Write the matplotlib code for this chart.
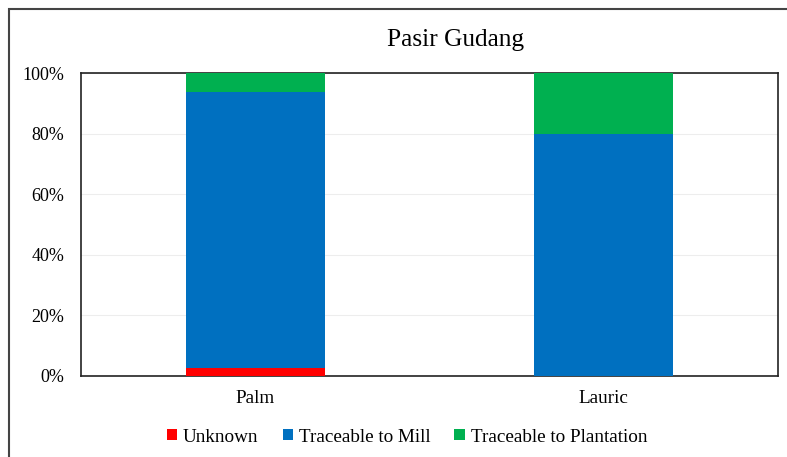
import matplotlib
matplotlib.use("Agg")
import matplotlib.pyplot as plt
from matplotlib.patches import Rectangle
from matplotlib.ticker import FuncFormatter

categories = ["Palm", "Lauric"]
series_names = ["Unknown", "Traceable to Mill", "Traceable to Plantation"]
unknown = [2.6, 0.0]
mill = [91.2, 80.0]
plantation = [6.2, 20.0]
colors = ["#FF0000", "#0070C0", "#00B050"]
yticks = [0, 20, 40, 60, 80, 100]

plt.rcParams['font.family'] = ['Liberation Serif', 'DejaVu Serif']

fig = plt.figure(figsize=(7.87, 4.57), dpi=100)
W, H = 787, 457
ax = fig.add_axes([81 / W, 1 - 376 / H, (778 - 81) / W, (376 - 73) / H])

x = list(range(len(categories)))
bottom = [0.0] * len(categories)
for name, vals, c in zip(series_names, [unknown, mill, plantation], colors):
    ax.bar(x, vals, width=0.4, bottom=bottom, color=c, label=name, zorder=3)
    bottom = [b + v for b, v in zip(bottom, vals)]

ax.set_xlim(-0.5, 1.5)
ax.set_ylim(0, 100)
ax.set_yticks(yticks)
ax.yaxis.set_major_formatter(FuncFormatter(lambda v, p: f"{int(v)}%"))
ax.set_xticks(x)
ax.set_xticklabels(categories)
ax.tick_params(axis='both', length=0, colors='black')
ax.tick_params(axis='y', pad=12, labelsize=13)
ax.tick_params(axis='x', pad=10, labelsize=13.8)
ax.grid(axis='y', color='#EDEDED', linewidth=0.8, zorder=0)
for s in ax.spines.values():
    s.set_color('#222222')
    s.set_linewidth(1.2)

fig.text(455.5 / W, 1 - 40 / H, "Pasir Gudang", fontsize=18.3, ha='center', va='center')

leg = fig.legend(loc='center', bbox_to_anchor=(407 / W, 1 - 437 / H), ncol=3,
                 frameon=False, fontsize=13.8, handlelength=0.55, handleheight=0.55,
                 handletextpad=0.3, columnspacing=1.25)

fig.patches.append(Rectangle((8.5 / W, -0.1), 1.2, 1 - 8.5 / H + 0.1,
                             transform=fig.transFigure, fill=False,
                             edgecolor='#444444', linewidth=1.5))

fig.savefig("out.png", dpi=100)
